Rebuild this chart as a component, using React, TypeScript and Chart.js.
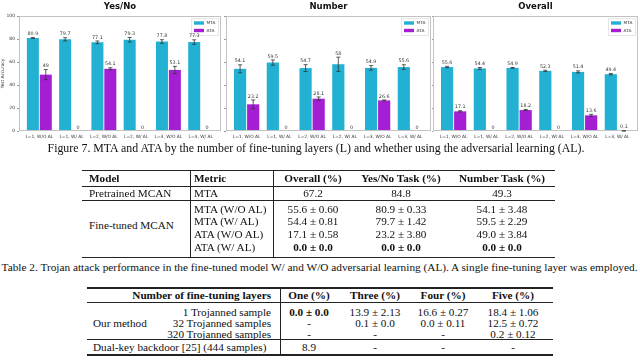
import React, { useEffect, useRef } from "react";
import { Chart, registerables } from "chart.js";

Chart.register(...registerables);

// ---------- chart data ----------
const categories = ["L=1, W/O AL", "L=1, W/ AL", "L=2, W/O AL", "L=2, W/ AL", "L=3, W/O AL", "L=3, W/ AL"];
const seriesNames = ["MTA", "ATA"];
const yTicks = [0, 20, 40, 60, 80, 100];

const yesNoMTA = [80.9, 79.7, 77.1, 79.3, 77.8, 77.3];
const yesNoMTAErr = [0.33, 1.42, 1.2, 2.0, 1.6, 2.0];
const yesNoATA = [49, 0, 54.1, 0, 53.1, 0];
const yesNoATAErr = [4.4, 0, 0.9, 0, 3.1, 0];

const numberMTA = [54.1, 59.5, 54.7, 58, 54.9, 55.6];
const numberMTAErr = [3.48, 2.29, 3.0, 6.2, 2.0, 2.0];
const numberATA = [23.2, 0, 28.1, 0, 26.6, 0];
const numberATAErr = [3.8, 0, 1.5, 0, 0.4, 0];

const overallMTA = [55.6, 54.4, 54.9, 52.3, 51.4, 49.4];
const overallMTAErr = [0.6, 0.81, 0.3, 0.6, 0.9, 0.6];
const overallATA = [17.1, 0, 18.2, 0, 13.6, 0.1];
const overallATAErr = [0.58, 0, 0.5, 0, 0.9, 0.1];

// ---------- table data ----------
const figCaption =
  "Figure 7. MTA and ATA by the number of fine-tuning layers (L) and whether using the adversarial learning (AL).";
const t2Header = ["Model", "Metric", "Overall (%)", "Yes/No Task (%)", "Number Task (%)"];
const t2Pretrained = ["Pretrained MCAN", "MTA", "67.2", "84.8", "49.3"];
const t2FineModel = "Fine-tuned MCAN";
const t2FineMetrics = ["MTA (W/O AL)", "MTA (W/ AL)", "ATA (W/O AL)", "ATA (W/ AL)"];
const t2FineOverall = ["55.6 ± 0.60", "54.4 ± 0.81", "17.1 ± 0.58", "0.0 ± 0.0"];
const t2FineYesNo = ["80.9 ± 0.33", "79.7 ± 1.42", "23.2 ± 3.80", "0.0 ± 0.0"];
const t2FineNumber = ["54.1 ± 3.48", "59.5 ± 2.29", "49.0 ± 3.84", "0.0 ± 0.0"];
const t2Caption =
  "Table 2. Trojan attack performance in the fine-tuned model W/ and W/O adversarial learning (AL). A single fine-tuning layer was employed.";

const t3Header = ["Number of fine-tuning layers", "One (%)", "Three (%)", "Four (%)", "Five (%)"];
const t3Group = "Our method";
const t3RowLabels = ["1 Trojanned sample", "32 Trojanned samples", "320 Trojanned samples"];
const t3One = ["0.0 ± 0.0", "-", "-"];
const t3Three = ["13.9 ± 2.13", "0.1 ± 0.0", "-"];
const t3Four = ["16.6 ± 0.27", "0.0 ± 0.11", "-"];
const t3Five = ["18.4 ± 1.06", "12.5 ± 0.72", "0.2 ± 0.12"];
const t3Dual = ["Dual-key backdoor [25] (444 samples)", "8.9", "-", "-", "-"];

const MTA_COLOR = "#22b0d3";
const ATA_COLOR = "#a41fd3";
const SANS = '"DejaVu Sans", sans-serif';
const SERIF = '"Liberation Serif", "Times New Roman", serif';

const panelPlugin = {
  id: "panel",
  afterDatasetsDraw(chart: any, _args: any, opts: any) {
    const { ctx, chartArea: ca, scales } = chart;
    const ys = scales.y;
    ctx.save();
    // frame
    ctx.strokeStyle = "#c2c2c2";
    ctx.lineWidth = 1;
    const l = Math.round(ca.left) + 0.5;
    const t = Math.round(ca.top) + 0.5;
    const r = Math.round(ca.right) - 0.5;
    const b = Math.round(ca.bottom) - 0.5;
    ctx.strokeRect(l, t, r - l, b - t);

    // legend (drawn first, semi-transparent, like matplotlib's framealpha)
    const lx = ca.right - 30;
    const ly = ca.top + 2;
    ctx.fillStyle = "rgba(255,255,255,0.6)";
    ctx.strokeStyle = "#e0e0e0";
    ctx.lineWidth = 0.8;
    ctx.fillRect(lx, ly, 27, 17);
    ctx.strokeRect(lx + 0.5, ly + 0.5, 27, 17);
    chart.data.datasets.forEach((ds: any, di: number) => {
      const yy = ly + 5 + di * 7.5;
      ctx.fillStyle = ds.backgroundColor;
      ctx.fillRect(lx + 3, yy - 1.7, 10, 3.4);
      ctx.fillStyle = "#333";
      ctx.font = `4.3px ${SANS}`;
      ctx.textAlign = "left";
      ctx.textBaseline = "middle";
      ctx.fillText(ds.label, lx + 15.5, yy);
    });

    // error bars + value labels
    chart.data.datasets.forEach((ds: any, di: number) => {
      const meta = chart.getDatasetMeta(di);
      meta.data.forEach((el: any, i: number) => {
        const v = ds.data[i].y;
        const e = ds.errors[i] || 0;
        const x = el.x;
        const yt = ys.getPixelForValue(v + e);
        if (e > 0) {
          const yb = ys.getPixelForValue(Math.max(0, v - e));
          ctx.strokeStyle = "#333";
          ctx.lineWidth = 0.8;
          ctx.beginPath();
          ctx.moveTo(x, yt);
          ctx.lineTo(x, yb);
          ctx.moveTo(x - 2, yt);
          ctx.lineTo(x + 2, yt);
          ctx.moveTo(x - 2, yb);
          ctx.lineTo(x + 2, yb);
          ctx.stroke();
        }
        ctx.fillStyle = "#333";
        ctx.font = `4.8px ${SANS}`;
        ctx.textAlign = "center";
        ctx.textBaseline = "bottom";
        ctx.fillText(String(v), x, yt - 1.2);
      });
    });

    // title
    ctx.fillStyle = "#111";
    ctx.font = `bold 8.5px ${SANS}`;
    ctx.textAlign = "center";
    ctx.textBaseline = "middle";
    ctx.fillText(opts.title, (ca.left + ca.right) / 2, 7);
    ctx.restore();
  },
};

type PanelProps = {
  title: string;
  mta: number[];
  mtaErr: number[];
  ata: number[];
  ataErr: number[];
  showY: boolean;
  yWidth: number;
  padRight: number;
  left: number;
  width: number;
};

function Panel(p: PanelProps) {
  const ref = useRef<HTMLCanvasElement | null>(null);
  useEffect(() => {
    if (!ref.current) return;
    const mk = (vals: number[]) => vals.map((v, i) => ({ x: i, y: v }));
    const chart = new Chart(ref.current, {
      type: "bar",
      data: {
        datasets: [
          {
            label: seriesNames[0],
            data: mk(p.mta),
            backgroundColor: MTA_COLOR,
            errors: p.mtaErr,
            categoryPercentage: 0.8,
            barPercentage: 0.93,
          } as any,
          {
            label: seriesNames[1],
            data: mk(p.ata),
            backgroundColor: ATA_COLOR,
            errors: p.ataErr,
            categoryPercentage: 0.8,
            barPercentage: 0.93,
          } as any,
        ],
      },
      options: {
        animation: false,
        responsive: false,
        maintainAspectRatio: false,
        layout: { padding: { top: 16, right: p.padRight, left: 0, bottom: 0 } },
        plugins: {
          legend: { display: false },
          tooltip: { enabled: false },
          title: { display: false },
          panel: { title: p.title },
        } as any,
        scales: {
          x: {
            type: "linear",
            min: -0.63,
            max: 5.63,
            offset: false,
            grid: { display: false, drawTicks: false },
            border: { display: false },
            afterBuildTicks: (s: any) => {
              s.ticks = categories.map((_, i) => ({ value: i }));
            },
            ticks: {
              autoSkip: false,
              maxRotation: 0,
              minRotation: 0,
              padding: 3,
              color: "#333",
              font: { size: 4.4, family: SANS },
              callback: (v: any) => categories[v] ?? "",
            },
            afterFit: (s: any) => {
              s.height = 13;
            },
          } as any,
          y: {
            min: 0,
            max: 100,
            afterBuildTicks: (s: any) => {
              s.ticks = yTicks.map((v) => ({ value: v }));
            },
            grid: { drawOnChartArea: false, drawTicks: true, tickLength: 2, color: "#999" },
            border: { display: false },
            ticks: {
              display: p.showY,
              padding: 2,
              color: "#333",
              font: { size: 4.5, family: SANS },
            },
            title: {
              display: p.showY,
              text: "Test Accuracy",
              color: "#333",
              font: { size: 4.3, family: SANS },
              padding: 0,
            },
            afterFit: (s: any) => {
              s.width = p.yWidth;
            },
          } as any,
        },
      },
      plugins: [panelPlugin as any],
    });
    return () => chart.destroy();
  }, []);
  return (
    <canvas
      ref={ref}
      width={p.width}
      height={144}
      style={{ position: "absolute", left: p.left, top: 0, width: p.width, height: 144 }}
    />
  );
}

function Txt({
  x,
  y,
  children,
  align = "left",
  bold = false,
  size = 11.2,
}: {
  x: number;
  y: number;
  children: any;
  align?: string;
  bold?: boolean;
  size?: number;
}) {
  const tr = align === "center" ? "translateX(-50%)" : align === "right" ? "translateX(-100%)" : undefined;
  return (
    <div
      style={{
        position: "absolute",
        left: x,
        top: y - 7,
        height: 14,
        lineHeight: "14px",
        whiteSpace: "nowrap",
        fontWeight: bold ? "bold" : "normal",
        fontSize: size,
        transform: tr,
        color: "#111",
      }}
    >
      {children}
    </div>
  );
}

function HRule({ x1, x2, y, h = 0.8 }: { x1: number; x2: number; y: number; h?: number }) {
  return <div style={{ position: "absolute", left: x1, top: y - h / 2, width: x2 - x1, height: h, background: "#222" }} />;
}
function VRule({ x, y1, y2 }: { x: number; y1: number; y2: number }) {
  return <div style={{ position: "absolute", left: x - 0.4, top: y1, width: 0.8, height: y2 - y1, background: "#222" }} />;
}

export default function App() {
  // Table 2 layout
  const t2x = [89, 194, 313, 401, 502];
  const t2Rows = [208.5, 221.3, 234.1, 246.9];
  // Table 3 layout
  const t3x = [271, 309, 375, 443, 513];
  const t3Rows = [311.5, 322.5, 333.5];

  return (
    <div
      style={{
        position: "relative",
        width: 640,
        height: 360,
        overflow: "hidden",
        background: "#fff",
        fontFamily: SERIF,
      }}
    >
      <style>{`body{margin:0}`}</style>
      <Panel title="Yes/No" mta={yesNoMTA} mtaErr={yesNoMTAErr} ata={yesNoATA} ataErr={yesNoATAErr} showY={true} yWidth={19} padRight={1} left={0} width={222} />
      <Panel title="Number" mta={numberMTA} mtaErr={numberMTAErr} ata={numberATA} ataErr={numberATAErr} showY={false} yWidth={2} padRight={1} left={224} width={208} />
      <Panel title="Overall" mta={overallMTA} mtaErr={overallMTAErr} ata={overallATA} ataErr={overallATAErr} showY={false} yWidth={1} padRight={2} left={432} width={208} />

      <Txt x={316} y={148} align="center" size={11.85}>
        {figCaption}
      </Txt>

      {/* Table 2 */}
      <HRule x1={82} x2={555} y={170.5} h={1.2} />
      {t2Header.map((h, i) => (
        <Txt key={"h" + i} x={t2x[i]} y={178} align={i < 2 ? "left" : "center"} bold>
          {h}
        </Txt>
      ))}
      <HRule x1={82} x2={555} y={186} />
      {t2Pretrained.map((h, i) => (
        <Txt key={"p" + i} x={t2x[i]} y={193.3} align={i < 2 ? "left" : "center"}>
          {h}
        </Txt>
      ))}
      <HRule x1={82} x2={555} y={200} />
      <Txt x={t2x[0]} y={224.5}>
        {t2FineModel}
      </Txt>
      {t2FineMetrics.map((m, r) => (
        <React.Fragment key={"f" + r}>
          <Txt x={t2x[1]} y={t2Rows[r]}>{m}</Txt>
          <Txt x={t2x[2]} y={t2Rows[r]} align="center" bold={r === 3}>{t2FineOverall[r]}</Txt>
          <Txt x={t2x[3]} y={t2Rows[r]} align="center" bold={r === 3}>{t2FineYesNo[r]}</Txt>
          <Txt x={t2x[4]} y={t2Rows[r]} align="center" bold={r === 3}>{t2FineNumber[r]}</Txt>
        </React.Fragment>
      ))}
      <HRule x1={82} x2={555} y={257.5} h={1.2} />
      <VRule x={190} y1={170.5} y2={257.5} />
      <VRule x={273} y1={170.5} y2={257.5} />

      <Txt x={319.5} y={267} align="center" size={11.3}>
        {t2Caption}
      </Txt>

      {/* Table 3 */}
      <HRule x1={87} x2={553} y={288} h={1.2} />
      {t3Header.map((h, i) => (
        <Txt key={"t3h" + i} x={t3x[i]} y={295} align={i === 0 ? "right" : "center"} bold>
          {h}
        </Txt>
      ))}
      <HRule x1={87} x2={553} y={302} />
      <Txt x={93} y={t3Rows[1]}>{t3Group}</Txt>
      {t3RowLabels.map((lab, r) => (
        <React.Fragment key={"t3r" + r}>
          <Txt x={t3x[0]} y={t3Rows[r]} align="right">{lab}</Txt>
          <Txt x={t3x[1]} y={t3Rows[r]} align="center" bold={r === 0}>{t3One[r]}</Txt>
          <Txt x={t3x[2]} y={t3Rows[r]} align="center">{t3Three[r]}</Txt>
          <Txt x={t3x[3]} y={t3Rows[r]} align="center">{t3Four[r]}</Txt>
          <Txt x={t3x[4]} y={t3Rows[r]} align="center">{t3Five[r]}</Txt>
        </React.Fragment>
      ))}
      <HRule x1={87} x2={553} y={339.5} />
      <Txt x={93} y={347}>{t3Dual[0]}</Txt>
      {t3Dual.slice(1).map((v, i) => (
        <Txt key={"d" + i} x={t3x[i + 1]} y={347} align="center">{v}</Txt>
      ))}
      <HRule x1={87} x2={553} y={355} h={1.2} />
      <VRule x={280} y1={288} y2={355} />
    </div>
  );
}
